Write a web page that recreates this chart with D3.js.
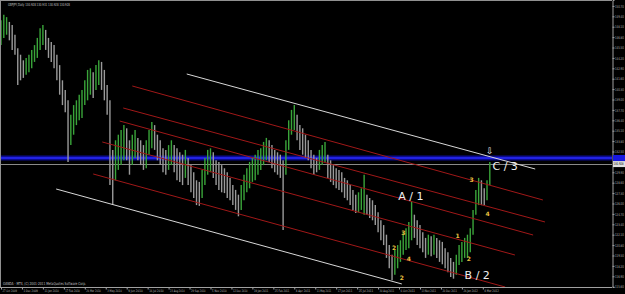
<!DOCTYPE html>
<html>
<head>
<meta charset="utf-8">
<script src="https://cdn.jsdelivr.net/npm/d3@7"></script>
<style>
body{margin:0;background:#000;overflow:hidden}
text{font-family:"DejaVu Sans",sans-serif}
</style>
</head>
<body>
<div id="chart"></div>
<script>
// GBPJPY daily (one entry every 4 bars)
var barStep = 4;
var highs = [148.9,149.6,149.3,148.7,148.3,147.1,145.4,144.6,143.9,144.2,
  144.6,145.2,145.8,146.7,147.9,148.3,147.7,146.7,146.2,145.8,
  144.6,143.3,141.4,140.2,138.9,137.1,138.3,138.9,139.6,140.2,
  141.4,142.7,142.9,142.4,143.3,143.9,143.7,142.7,140.8,138.9,
  132.7,133.9,134.6,135.2,135.8,135.4,133.9,134.6,135.2,134.2,
  133.9,133.3,133.9,135.2,136.2,135.8,134.6,133.9,132.9,132.7,
  133.3,133.9,133.3,132.9,132.4,132.1,132.7,131.7,130.8,129.9,
  128.9,128.7,130.2,131.7,132.7,132.9,132.4,131.4,131.2,130.8,
  130.4,129.9,129.2,128.3,127.7,127.1,128.3,129.6,130.4,131.2,
  131.7,132.1,132.7,132.9,133.7,134.2,133.9,133.3,132.7,132.4,
  132.1,131.4,133.9,136.4,137.7,138.3,137.1,135.8,135.4,134.6,
  133.9,132.7,132.1,131.7,132.7,133.3,133.7,132.1,131.4,130.8,
  130.4,130.2,129.9,129.2,128.9,128.3,127.7,127.1,127.4,127.9,
  129.6,127.1,126.7,126.4,125.8,124.9,123.9,123.3,122.1,120.8,
  119.6,120.2,120.8,121.4,122.4,122.9,123.7,126.2,124.6,123.9,
  123.3,122.4,121.7,122.1,121.9,122.1,121.7,121.4,121.2,120.4,
  119.9,119.2,118.7,119.6,120.8,121.2,121.7,122.1,122.9,125.2,
  127.7,129.2,128.9,127.9,128.9,131.2];
var lows = [145.8,146.7,147.1,146.4,145.2,144.6,140.8,141.4,141.7,142.1,
  142.4,142.9,143.7,144.2,145.2,145.8,145.2,144.2,143.7,142.9,
  141.4,139.6,138.3,137.4,131.2,133.3,134.6,135.8,136.4,136.7,
  138.3,138.9,139.6,139.2,140.2,140.8,140.2,138.9,137.1,128.3,
  125.8,128.9,130.2,130.8,131.4,131.4,129.6,130.8,131.7,131.4,
  130.8,130.2,130.4,132.1,132.9,132.7,131.4,130.8,129.9,129.6,
  130.2,130.8,129.9,128.9,128.7,128.3,129.2,128.3,127.4,126.7,
  125.8,125.7,126.7,128.3,129.6,129.9,129.2,128.3,127.7,127.4,
  127.3,126.7,126.4,125.8,125.2,124.4,125.2,126.4,127.4,127.9,
  128.7,128.9,129.6,130.2,130.8,131.4,131.2,130.4,129.9,129.6,
  129.2,122.7,129.6,132.7,134.6,135.2,133.9,132.7,132.1,131.7,
  131.4,130.4,129.6,129.9,130.2,130.8,131.2,129.2,128.7,128.3,
  127.9,127.7,127.4,126.7,126.4,125.8,125.2,124.8,124.9,125.2,
  124.6,124.6,124.2,123.9,123.3,122.4,121.4,120.8,119.2,117.9,
  116.4,117.1,117.9,118.7,119.6,120.2,120.4,121.4,121.7,120.8,
  120.4,119.9,119.2,119.6,119.4,119.6,119.2,118.7,118.4,117.9,
  117.4,116.8,116.6,117.1,118.3,118.7,119.2,119.2,119.9,122.1,
  124.6,125.8,125.8,125.8,126.4,128.3];

// channel lines: [bar1, price1, bar2, price2]
var whiteLines = [[266,142.19,765,130.31],[79,127.81,574,115.94]];
var redLines = [[188,140.69,776,126.44],[175,137.94,779,123.69],[170,136.31,762,122.06],[145,133.69,736,119.56],[132,129.69,722,115.56]];

var blueLevel = 131.69;
var bidPrice = 130.928;

var priceTicks = d3.range(0, 28).map(function(i){ return +(115.6 + i*1.3).toFixed(2); });
var dateLabels = ["27 Oct 2009","1 Dec 2009","11 Jan 2010","17 Feb 2010","26 Mar 2010","3 May 2010","9 Jun 2010","16 Jul 2010","23 Aug 2010","29 Sep 2010","5 Nov 2010","12 Dec 2010","19 Jan 2011","25 Feb 2011","4 Apr 2011","11 May 2011","17 Jun 2011","25 Jul 2011","30 Aug 2011","6 Oct 2011","13 Nov 2011","20 Dec 2011","26 Jan 2012","4 Mar 2012"];
var barsPerLabel = 30;

var waveLabels = [["A / 1",587,126.8],["B / 2",682,116.94],["C / 3",722,130.56]];
var countLabels = [["3",576,122.31],["2",563,120.44],["4",584,119.06],["2",574,116.69],["1",654,121.94],["2",670,119.06],["3",674,128.94],["4",697,124.69]];

var width = 625, height = 294;
var plotRight = 612, plotBottom = 287;

var svg = d3.select("#chart").append("svg")
    .attr("width", width).attr("height", height)
    .style("background", "#000");

var x = d3.scaleLinear().domain([0, 700]).range([1, 1 + 700*0.6983]);
var y = d3.scaleLinear().domain([115.56, 151.44]).range([plotBottom, 0]);

// blue level + bid line
svg.append("rect").attr("x", 0).attr("width", plotRight)
    .attr("y", y(blueLevel) - 2.5).attr("height", 5).attr("fill", "#0c0c8c");
svg.append("line").attr("x1", 0).attr("x2", plotRight)
    .attr("y1", y(blueLevel)).attr("y2", y(blueLevel))
    .attr("stroke", "#2a2aff").attr("stroke-width", 1.5);
svg.append("line").attr("x1", 0).attr("x2", plotRight)
    .attr("y1", Math.round(y(bidPrice)) + 0.5).attr("y2", Math.round(y(bidPrice)) + 0.5)
    .attr("stroke", "#8a8a8a").attr("stroke-width", 1);

// bars
var bars = highs.map(function(h, i){ return {i: i, h: h, l: lows[i]}; });
svg.append("g").selectAll("line")
  .data(bars)
  .join("line")
    .attr("x1", d => x(d.i*barStep)).attr("x2", d => x(d.i*barStep))
    .attr("y1", d => y(d.h)).attr("y2", d => y(d.l))
    .attr("stroke", (d, i) => i > 0 && (d.h + d.l) < (bars[i-1].h + bars[i-1].l) ? "#9a9a9a" : "#3aa53a")
    .attr("stroke-width", 1.4);

// channels
svg.append("g").selectAll("line")
  .data(redLines)
  .join("line")
    .attr("x1", d => x(d[0])).attr("y1", d => y(d[1]))
    .attr("x2", d => x(d[2])).attr("y2", d => y(d[3]))
    .attr("stroke", "#a01818").attr("stroke-width", 1);
svg.append("g").selectAll("line")
  .data(whiteLines)
  .join("line")
    .attr("x1", d => x(d[0])).attr("y1", d => y(d[1]))
    .attr("x2", d => x(d[2])).attr("y2", d => y(d[3]))
    .attr("stroke", "#d8d8d8").attr("stroke-width", 1);

// labels
svg.append("g").selectAll("text")
  .data(waveLabels)
  .join("text")
    .attr("x", d => x(d[1])).attr("y", d => y(d[2]))
    .attr("text-anchor", "middle").attr("dominant-baseline", "middle")
    .attr("fill", "#f0f0f0").attr("font-size", 11)
    .text(d => d[0]);
svg.append("g").selectAll("text")
  .data(countLabels)
  .join("text")
    .attr("x", d => x(d[1])).attr("y", d => y(d[2]))
    .attr("text-anchor", "middle").attr("dominant-baseline", "middle")
    .attr("fill", "#e8c040").attr("font-size", 6).attr("font-weight", "bold")
    .text(d => d[0]);
svg.append("text").attr("x", x(700)).attr("y", y(132.44))
    .attr("text-anchor", "middle").attr("dominant-baseline", "middle")
    .attr("fill", "#f0f0f0").attr("font-size", 9).text("\u21e9");

// frame + axes
svg.append("line").attr("x1", 0).attr("x2", plotRight).attr("y1", 0.5).attr("y2", 0.5).attr("stroke", "#909090");
svg.append("line").attr("x1", 0.5).attr("x2", 0.5).attr("y1", 0).attr("y2", plotBottom).attr("stroke", "#909090");

// tick labels hidden under the price boxes
var shownTicks = priceTicks.filter(p => Math.abs(y(p) - y(bidPrice)) > 5 && Math.abs(y(p) - y(blueLevel)) > 5);

var yAxis = g => g
    .attr("transform", `translate(${plotRight + 0.5},0)`)
    .call(d3.axisRight(y).tickValues(shownTicks).tickSize(2).tickPadding(0.5).tickFormat(d3.format(".2f")))
    .call(g => g.select(".domain").attr("stroke", "#a0a0a0"))
    .call(g => g.selectAll(".tick line").attr("stroke", "#a0a0a0"))
    .call(g => g.selectAll("text").attr("fill", "#b8b8b8").attr("font-size", 3.8)
        .attr("textLength", 8.8).attr("lengthAdjust", "spacingAndGlyphs"));
svg.append("g").call(yAxis);

var xAxis = g => g
    .attr("transform", `translate(0,${plotBottom + 0.5})`)
    .call(d3.axisBottom(x).tickValues(d3.range(dateLabels.length).map(i => i*barsPerLabel))
        .tickSize(2).tickFormat((d, i) => dateLabels[i]))
    .call(g => g.select(".domain").attr("d", `M0,0H${plotRight}`).attr("stroke", "#a0a0a0"))
    .call(g => g.selectAll(".tick line").attr("stroke", "#a0a0a0"))
    .call(g => g.selectAll("text").attr("fill", "#b8b8b8").attr("font-size", 3.3)
        .attr("text-anchor", "start").attr("dx", 1).attr("y", 2.5)
        .attr("textLength", 14.5).attr("lengthAdjust", "spacingAndGlyphs"));
svg.append("g").call(xAxis);

// price boxes on the axis
svg.append("rect").attr("x", plotRight + 1).attr("y", y(blueLevel) - 3).attr("width", 12).attr("height", 6).attr("fill", "#1818e0");
svg.append("rect").attr("x", plotRight + 1).attr("y", y(bidPrice) - 3).attr("width", 12).attr("height", 6).attr("fill", "#e0e0e0");
svg.append("text").attr("x", plotRight + 1.5).attr("y", y(bidPrice)).attr("dominant-baseline", "middle")
    .attr("fill", "#000").attr("font-size", 3.8).attr("textLength", 10).attr("lengthAdjust", "spacingAndGlyphs")
    .text(bidPrice.toFixed(3));

svg.append("text").attr("x", 8).attr("y", 6).attr("fill", "#c0c0c0").attr("font-size", 4)
    .attr("textLength", 62).attr("lengthAdjust", "spacingAndGlyphs")
    .text("GBPJPY,Daily  130.928 130.931 130.928 130.928");
svg.append("text").attr("x", 3).attr("y", 285).attr("fill", "#c0c0c0").attr("font-size", 4)
    .attr("textLength", 83).attr("lengthAdjust", "spacingAndGlyphs")
    .text("OANDA - MT4, (C) 2001-2011 MetaQuotes Software Corp.");
</script>
</body>
</html>
